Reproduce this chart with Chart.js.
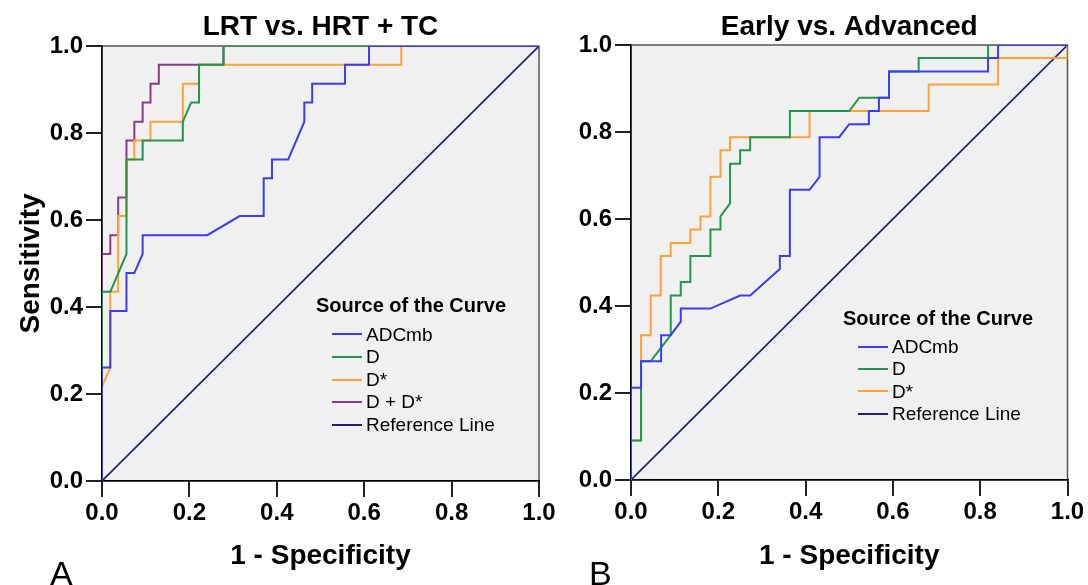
<!DOCTYPE html>
<html>
<head>
<meta charset="utf-8">
<script src="https://cdn.jsdelivr.net/npm/chart.js@4.4.1/dist/chart.umd.min.js"></script>
<style>
  body { margin: 0; background: #fff; width: 1088px; height: 585px; overflow: hidden; position: relative;
         font-family: "Liberation Sans", Arial, sans-serif; color: #000; }
  canvas { position: absolute; top: 0; }
  #chartA { left: 0; }
  #chartB { left: 560px; }
  .lbl { position: absolute; font-size: 34px; line-height: 34px; }
  .leg-title { position: absolute; font-size: 20px; font-weight: bold; line-height: 22px; white-space: nowrap; }
  .leg-item { position: absolute; font-size: 19px; line-height: 22px; white-space: nowrap; }
  .swatch { position: absolute; width: 30px; height: 2px; }
</style>
</head>
<body>
<canvas id="chartA" width="560" height="585"></canvas>
<canvas id="chartB" width="528" height="585"></canvas>
<div class="lbl" style="left:50px; top:556px;">A</div>
<div class="lbl" style="left:589px; top:556px;">B</div>
<div id="legendA"></div>
<div id="legendB"></div>
<script>
// tick labels shared by both panels
const tickLabels = ["0.0", "0.2", "0.4", "0.6", "0.8", "1.0"];

// Panel A: LRT vs. HRT + TC  (x = 1 - specificity, y = sensitivity)
const adcA_x = [0, 0, 0.019, 0.019, 0.056, 0.056, 0.074, 0.093, 0.093, 0.241, 0.315, 0.370, 0.370, 0.389, 0.389, 0.426, 0.463, 0.463, 0.481, 0.481, 0.556, 0.556, 0.611, 0.611, 1];
const adcA_y = [0, 0.261, 0.261, 0.391, 0.391, 0.478, 0.478, 0.522, 0.565, 0.565, 0.609, 0.609, 0.696, 0.696, 0.739, 0.739, 0.826, 0.870, 0.870, 0.913, 0.913, 0.957, 0.957, 1, 1];
const dA_x = [0, 0, 0.019, 0.056, 0.056, 0.093, 0.093, 0.185, 0.185, 0.204, 0.222, 0.222, 0.278, 0.278, 1];
const dA_y = [0, 0.435, 0.435, 0.522, 0.739, 0.739, 0.783, 0.783, 0.826, 0.870, 0.870, 0.957, 0.957, 1, 1];
const dStarA_x = [0, 0, 0.019, 0.019, 0.037, 0.037, 0.056, 0.056, 0.074, 0.074, 0.111, 0.111, 0.185, 0.185, 0.222, 0.222, 0.685, 0.685, 1];
const dStarA_y = [0, 0.217, 0.261, 0.435, 0.435, 0.609, 0.609, 0.739, 0.739, 0.783, 0.783, 0.826, 0.826, 0.913, 0.913, 0.957, 0.957, 1, 1];
const dPlusA_x = [0, 0, 0.019, 0.019, 0.037, 0.037, 0.056, 0.056, 0.074, 0.074, 0.093, 0.093, 0.111, 0.111, 0.130, 0.130, 0.278, 0.278, 1];
const dPlusA_y = [0, 0.522, 0.522, 0.565, 0.565, 0.652, 0.652, 0.783, 0.783, 0.826, 0.826, 0.870, 0.870, 0.913, 0.913, 0.957, 0.957, 1, 1];

// Panel B: Early vs. Advanced
const adcB_x = [0, 0, 0.023, 0.023, 0.069, 0.069, 0.091, 0.114, 0.114, 0.182, 0.250, 0.273, 0.341, 0.341, 0.364, 0.364, 0.409, 0.432, 0.432, 0.477, 0.500, 0.545, 0.545, 0.568, 0.568, 0.591, 0.591, 0.818, 0.818, 0.841, 0.841, 1];
const adcB_y = [0, 0.212, 0.212, 0.273, 0.273, 0.333, 0.333, 0.364, 0.394, 0.394, 0.424, 0.424, 0.485, 0.515, 0.515, 0.667, 0.667, 0.697, 0.788, 0.788, 0.818, 0.818, 0.848, 0.848, 0.879, 0.879, 0.939, 0.939, 0.970, 0.970, 1, 1];
const dB_x = [0, 0, 0.023, 0.023, 0.045, 0.091, 0.091, 0.114, 0.114, 0.136, 0.136, 0.182, 0.182, 0.205, 0.205, 0.227, 0.227, 0.250, 0.250, 0.273, 0.273, 0.364, 0.364, 0.500, 0.523, 0.591, 0.591, 0.659, 0.659, 0.818, 0.818, 1];
const dB_y = [0, 0.091, 0.091, 0.273, 0.273, 0.333, 0.424, 0.424, 0.455, 0.455, 0.515, 0.515, 0.576, 0.576, 0.606, 0.636, 0.727, 0.727, 0.758, 0.758, 0.788, 0.788, 0.848, 0.848, 0.879, 0.879, 0.939, 0.939, 0.970, 0.970, 1, 1];
const dStarB_x = [0, 0, 0.023, 0.023, 0.045, 0.045, 0.068, 0.068, 0.091, 0.091, 0.136, 0.136, 0.159, 0.159, 0.182, 0.182, 0.205, 0.205, 0.227, 0.227, 0.409, 0.409, 0.682, 0.682, 0.841, 0.841, 1, 1];
const dStarB_y = [0, 0.091, 0.091, 0.333, 0.333, 0.424, 0.424, 0.515, 0.515, 0.545, 0.545, 0.576, 0.576, 0.606, 0.606, 0.697, 0.697, 0.758, 0.758, 0.788, 0.788, 0.848, 0.848, 0.909, 0.909, 0.970, 0.970, 1];

// chance diagonal
const refX = [0, 1];
const refY = [0, 1];

const namesA = ["ADCmb", "D", "D*", "D + D*", "Reference Line"];
const namesB = ["ADCmb", "D", "D*", "Reference Line"];
const colorsA = ["#3c3cf5", "#22954f", "#ffa235", "#8b3a8b", "#1f1f6e"];
const colorsB = ["#3c3cf5", "#22954f", "#ffa235", "#1f1f6e"];

const FONT = '"Liberation Sans", Arial, sans-serif';

function pts(xs, ys) {
  return xs.map((x, i) => ({ x: x, y: ys[i] }));
}

// grey plot background + frame
const plotBackground = {
  id: "plotBackground",
  beforeDraw(chart) {
    const { ctx, chartArea: a } = chart;
    ctx.save();
    ctx.fillStyle = "#f0f0f0";
    ctx.fillRect(a.left, a.top, a.right - a.left, a.bottom - a.top);
    ctx.strokeStyle = "#555";
    ctx.lineWidth = 1.5;
    ctx.strokeRect(a.left, a.top, a.right - a.left, a.bottom - a.top);
    ctx.restore();
  }
};

function makeChart(id, title, series, names, colors, area, yTitle) {
  const canvas = document.getElementById(id);
  const W = canvas.width, H = canvas.height;
  const titleSize = 28;
  const titlePadTop = 10.5;
  const titlePadBottom = area.top - titlePadTop - titleSize * 1.2;

  const datasets = series.map((s, i) => ({
    label: names[i],
    data: pts(s[0], s[1]),
    showLine: true,
    borderColor: colors[i],
    backgroundColor: colors[i],
    borderWidth: i === series.length - 1 ? 1.6 : 2,
    pointRadius: 0,
    tension: 0,
    fill: false
  }));

  return new Chart(canvas, {
    type: "scatter",
    data: { datasets: datasets },
    options: {
      responsive: false,
      animation: false,
      devicePixelRatio: 1,
      layout: { padding: { left: 0, top: 0, right: W - area.right, bottom: 0 } },
      plugins: {
        legend: { display: false },
        tooltip: { enabled: false },
        title: {
          display: true,
          text: title,
          fullSize: false,
          color: "#000",
          font: { family: FONT, size: titleSize, weight: "bold" },
          padding: { top: titlePadTop, bottom: titlePadBottom }
        }
      },
      scales: {
        x: {
          type: "linear",
          min: 0,
          max: 1,
          afterFit: (s) => { s.height = H - area.bottom; },
          ticks: {
            stepSize: 0.2,
            padding: 2,
            color: "#000",
            font: { family: FONT, size: 24, weight: "bold" },
            callback: (v, i) => tickLabels[i]
          },
          grid: { drawOnChartArea: false, drawTicks: true, tickLength: 16, color: "#222", lineWidth: 2 },
          border: { display: true, color: "#000", width: 1.5 },
          title: {
            display: true,
            text: "1 - Specificity",
            color: "#000",
            font: { family: FONT, size: 28, weight: "bold" },
            padding: { top: 0, bottom: 12.4 }
          }
        },
        y: {
          type: "linear",
          min: 0,
          max: 1,
          afterFit: (s) => { s.width = area.left; },
          ticks: {
            stepSize: 0.2,
            padding: 3,
            color: "#000",
            font: { family: FONT, size: 24, weight: "bold" },
            callback: (v, i) => tickLabels[i]
          },
          grid: { drawOnChartArea: false, drawTicks: true, tickLength: 16, color: "#222", lineWidth: 2 },
          border: { display: true, color: "#000", width: 1.5 },
          title: {
            display: yTitle,
            text: "Sensitivity",
            color: "#000",
            font: { family: FONT, size: 28, weight: "bold" },
            padding: { top: 14.2, bottom: 0 }
          }
        }
      }
    },
    plugins: [plotBackground]
  });
}

// HTML legend inside the plot
function makeLegend(id, names, colors, pos) {
  const box = document.getElementById(id);
  const t = document.createElement("div");
  t.className = "leg-title";
  t.textContent = "Source of the Curve";
  t.style.left = pos.titleLeft + "px";
  t.style.top = (pos.titleCenter - 10.7) + "px";
  box.appendChild(t);
  names.forEach((n, i) => {
    const c = pos.firstRow + i * pos.rowStep;
    const sw = document.createElement("div");
    sw.className = "swatch";
    sw.style.left = pos.swatchLeft + "px";
    sw.style.top = (c - 1) + "px";
    sw.style.background = colors[i];
    box.appendChild(sw);
    const it = document.createElement("div");
    it.className = "leg-item";
    it.textContent = n;
    it.style.left = pos.textLeft + "px";
    it.style.top = (c - 10.8) + "px";
    box.appendChild(it);
  });
}

makeChart("chartA", "LRT vs. HRT + TC",
  [[adcA_x, adcA_y], [dA_x, dA_y], [dStarA_x, dStarA_y], [dPlusA_x, dPlusA_y], [refX, refY]],
  namesA, colorsA, { left: 102, right: 539, top: 46, bottom: 481 }, true);

makeChart("chartB", "Early vs. Advanced",
  [[adcB_x, adcB_y], [dB_x, dB_y], [dStarB_x, dStarB_y], [refX, refY]],
  namesB, colorsB, { left: 71, right: 507.5, top: 45, bottom: 480 }, false);

makeLegend("legendA", namesA, colorsA,
  { titleLeft: 316, titleCenter: 305, swatchLeft: 332, textLeft: 366, firstRow: 334.3, rowStep: 22.6 });
makeLegend("legendB", namesB, colorsB,
  { titleLeft: 843, titleCenter: 317.5, swatchLeft: 858, textLeft: 892, firstRow: 346.7, rowStep: 22.3 });
</script>
</body>
</html>
